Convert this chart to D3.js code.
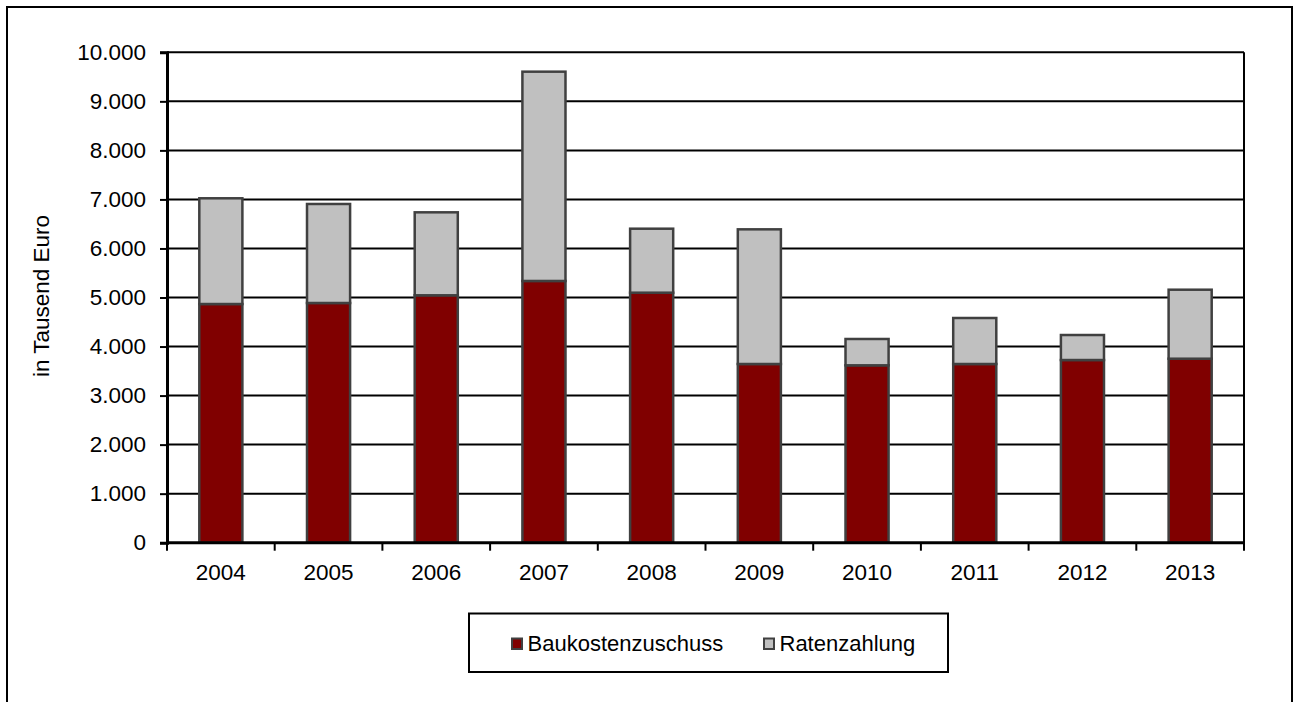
<!DOCTYPE html>
<html><head><meta charset="utf-8">
<script src="https://cdn.jsdelivr.net/npm/d3@7"></script>
<style>
html,body{margin:0;padding:0;background:#fff;}
svg{display:block;font-family:"Liberation Sans",Arial,sans-serif;}
</style></head>
<body>
<svg id="c" width="1293" height="702"></svg>
<script>
const years = ["2004","2005","2006","2007","2008","2009","2010","2011","2012","2013"];
const baukostenzuschuss = [4867,4888,5045,5337,5098,3644,3617,3644,3725,3752];
const ratenzahlung = [2156,2019,1692,4268,1305,2746,537,938,510,1407];
const yTicks = [0,1000,2000,3000,4000,5000,6000,7000,8000,9000,10000];
const seriesNames = ["Baukostenzuschuss","Ratenzahlung"];
const colors = ["#800000","#C0C0C0"];

const svg = d3.select("#c");
const m = {left:167, right:1244, top:52.3, bottom:542.7};

// outer frame
svg.append("rect").attr("x",7).attr("y",7).attr("width",1285).attr("height",720)
  .attr("fill","none").attr("stroke","#000").attr("stroke-width",2);

const x = d3.scaleBand().domain(years).range([m.left,m.right]).paddingInner(0.6).paddingOuter(0.3);
const y = d3.scaleLinear().domain([0,10000]).range([m.bottom,m.top]);

const fmt = v => d3.format(",")(v).replace(/,/g,".");

// gridlines
svg.append("g").selectAll("line").data(yTicks.filter(d=>d>0)).join("line")
  .attr("x1",m.left).attr("x2",m.right).attr("y1",d=>y(d)).attr("y2",d=>y(d))
  .attr("stroke","#000").attr("stroke-width",2);

// right border
svg.append("line").attr("x1",m.right).attr("x2",m.right).attr("y1",y(10000)).attr("y2",y(0))
  .attr("stroke","#000").attr("stroke-width",2);

// stacked bars
const data = years.map((yr,i)=>({year:yr, Baukostenzuschuss:baukostenzuschuss[i], Ratenzahlung:ratenzahlung[i]}));
const stack = d3.stack().keys(seriesNames)(data);
svg.append("g").selectAll("g").data(stack).join("g")
  .attr("fill",(d,i)=>colors[i])
  .selectAll("rect").data(d=>d).join("rect")
  .attr("x",d=>x(d.data.year)).attr("width",x.bandwidth())
  .attr("y",d=>y(d[1])).attr("height",d=>y(d[0])-y(d[1]))
  .attr("stroke","#404040").attr("stroke-width",2.5);

// y axis
const yAxis = d3.axisLeft(y).tickValues(yTicks).tickFormat(fmt).tickSize(7).tickPadding(14);
const gy = svg.append("g").attr("transform",`translate(${m.left},0)`).call(yAxis);
gy.select(".domain").attr("stroke","#000").attr("stroke-width",3);
gy.selectAll(".tick line").attr("stroke","#000").attr("stroke-width",2);
gy.selectAll("text").attr("font-size",22.5).attr("fill","#000").attr("font-family","Liberation Sans, Arial, sans-serif");

// x axis
const xb = d3.scaleLinear().domain([0,years.length]).range([m.left,m.right]);
svg.append("line").attr("x1",m.left-1).attr("x2",m.right+1).attr("y1",y(0)).attr("y2",y(0))
  .attr("stroke","#000").attr("stroke-width",3);
svg.append("g").selectAll("line").data(d3.range(years.length+1)).join("line")
  .attr("x1",d=>xb(d)).attr("x2",d=>xb(d)).attr("y1",y(0)).attr("y2",y(0)+8)
  .attr("stroke","#000").attr("stroke-width",2);
svg.append("g").selectAll("text").data(years).join("text")
  .attr("x",d=>x(d)+x.bandwidth()/2).attr("y",y(0)+37)
  .attr("text-anchor","middle").attr("font-size",22.5).attr("fill","#000").text(d=>d);

// y title
svg.append("text").attr("transform","translate(49,296) rotate(-90)")
  .attr("text-anchor","middle").attr("font-size",22.5).attr("fill","#000").text("in Tausend Euro");

// legend
const lg = svg.append("g");
lg.append("rect").attr("x",469).attr("y",613.5).attr("width",479).attr("height",58.5)
  .attr("fill","#fff").attr("stroke","#000").attr("stroke-width",2);
const legX = [511,763];
seriesNames.forEach((n,i)=>{
  lg.append("rect").attr("x",legX[i]+1).attr("y",638.5).attr("width",10).attr("height",10.5)
    .attr("fill",colors[i]).attr("stroke","#404040").attr("stroke-width",2);
  lg.append("text").attr("x",legX[i]+16.5).attr("y",651).attr("font-size",22)
    .attr("fill","#000").text(n);
});
</script>
</body></html>
